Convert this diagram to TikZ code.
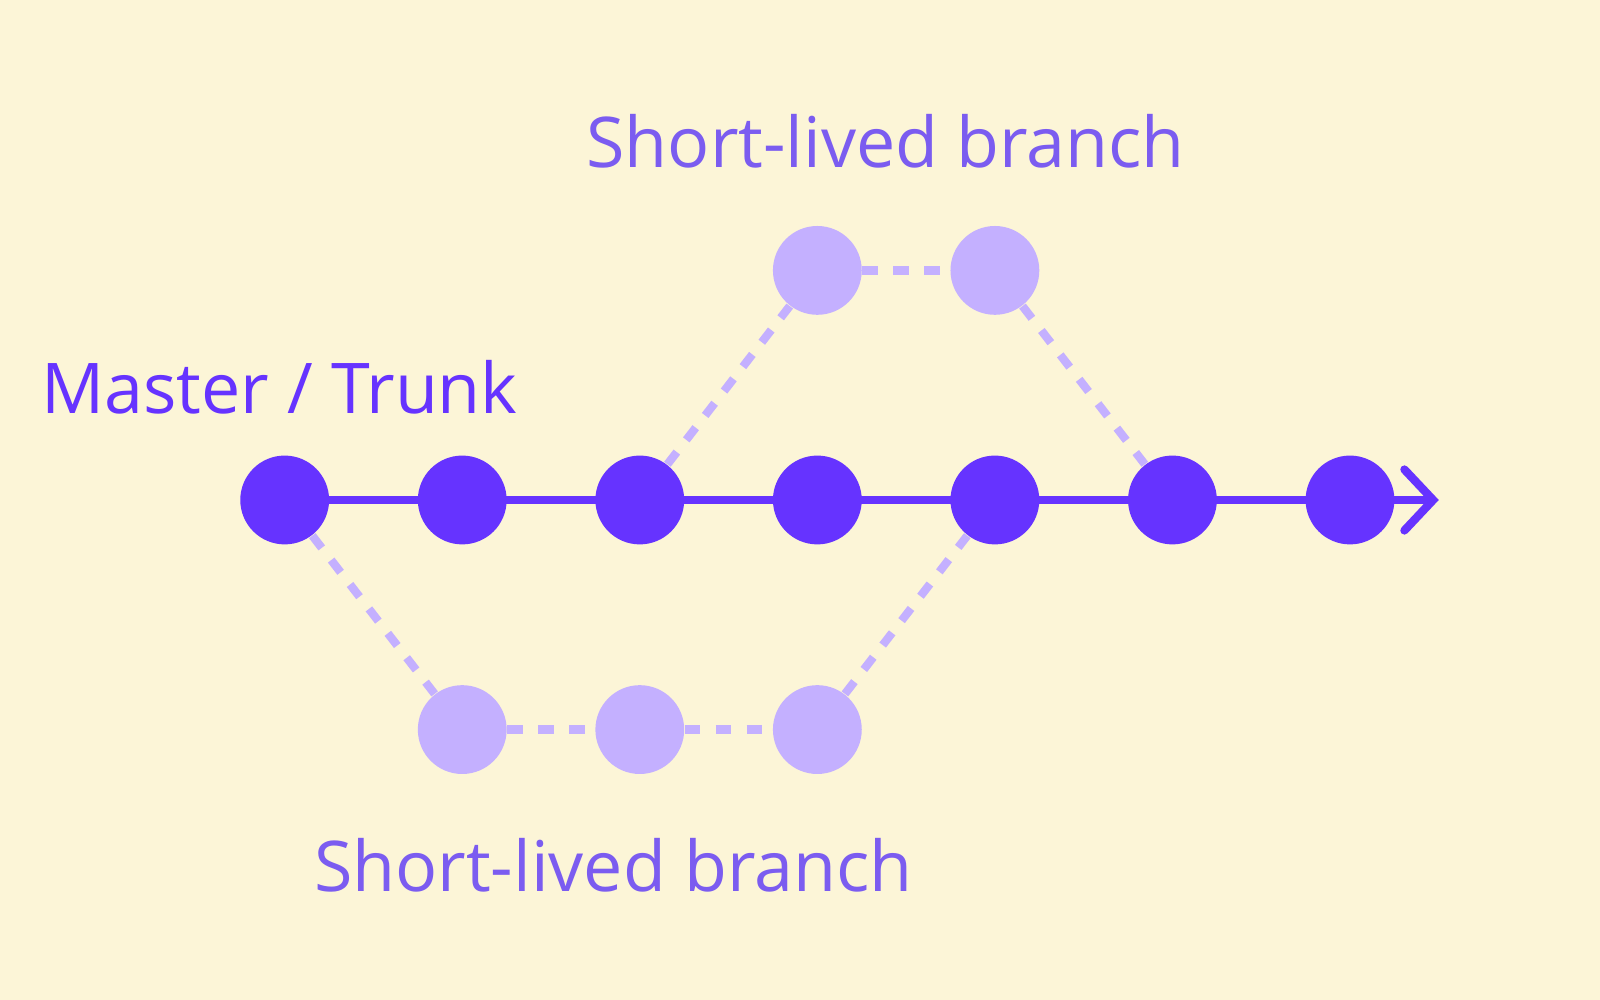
\documentclass[tikz,border=0pt]{standalone}
\usepackage{fontspec}
\setmainfont{Open Sans}
\usetikzlibrary{arrows.meta}
\definecolor{bg}{HTML}{FCF5D7}
\definecolor{dark}{HTML}{6633FF}
\definecolor{light}{HTML}{C4B0FF}
\definecolor{lbl}{HTML}{7B5CF0}
\begin{document}
\begin{tikzpicture}[x=0.01cm,y=-0.01cm,
  main/.style={circle,fill=dark,minimum size=0.87cm,inner sep=0},
  br/.style={circle,fill=light,minimum size=0.87cm,inner sep=0},
  dsh/.style={light,line width=2.3pt,dash pattern=on 4.3pt off 4.3pt},
  lab/.style={font=\fontsize{19.5pt}{22pt}\selectfont}]
\fill[bg] (0,0) rectangle (1568,980);
\useasboundingbox (0,0) rectangle (1568,980);
\foreach \i/\x in {1/279,2/453,3/627,4/801,5/975,6/1149,7/1323} \coordinate (p\i) at (\x,490);
\coordinate (end) at (1410,490);
\draw[dark,line width=2.3pt,-{Straight Barb[length=8pt,width=17pt,line cap=round]}] (p1) -- (end);
\node[br] (u1) at (801,265) {};
\node[br] (u2) at (975,265) {};
\node[br] (l1) at (453,715) {};
\node[br] (l2) at (627,715) {};
\node[br] (l3) at (801,715) {};
\foreach \i/\x in {1/279,2/453,3/627,4/801,5/975,6/1149,7/1323} \node[main] (m\i) at (\x,490) {};
\draw[dsh] (m3) -- (u1); \draw[dsh] (u1) -- (u2); \draw[dsh] (u2) -- (m6);
\draw[dsh] (m1) -- (l1); \draw[dsh] (l1) -- (l2); \draw[dsh] (l2) -- (l3); \draw[dsh] (l3) -- (m5);
\node[lab,text=dark,anchor=west] (mt) at (28,380) {Master / Trunk};
\node[lab,text=lbl] (t1) at (868,138) {Short-lived branch};
\node[lab,text=lbl] (t2) at (601,848) {Short-lived branch};
\end{tikzpicture}
\end{document}
